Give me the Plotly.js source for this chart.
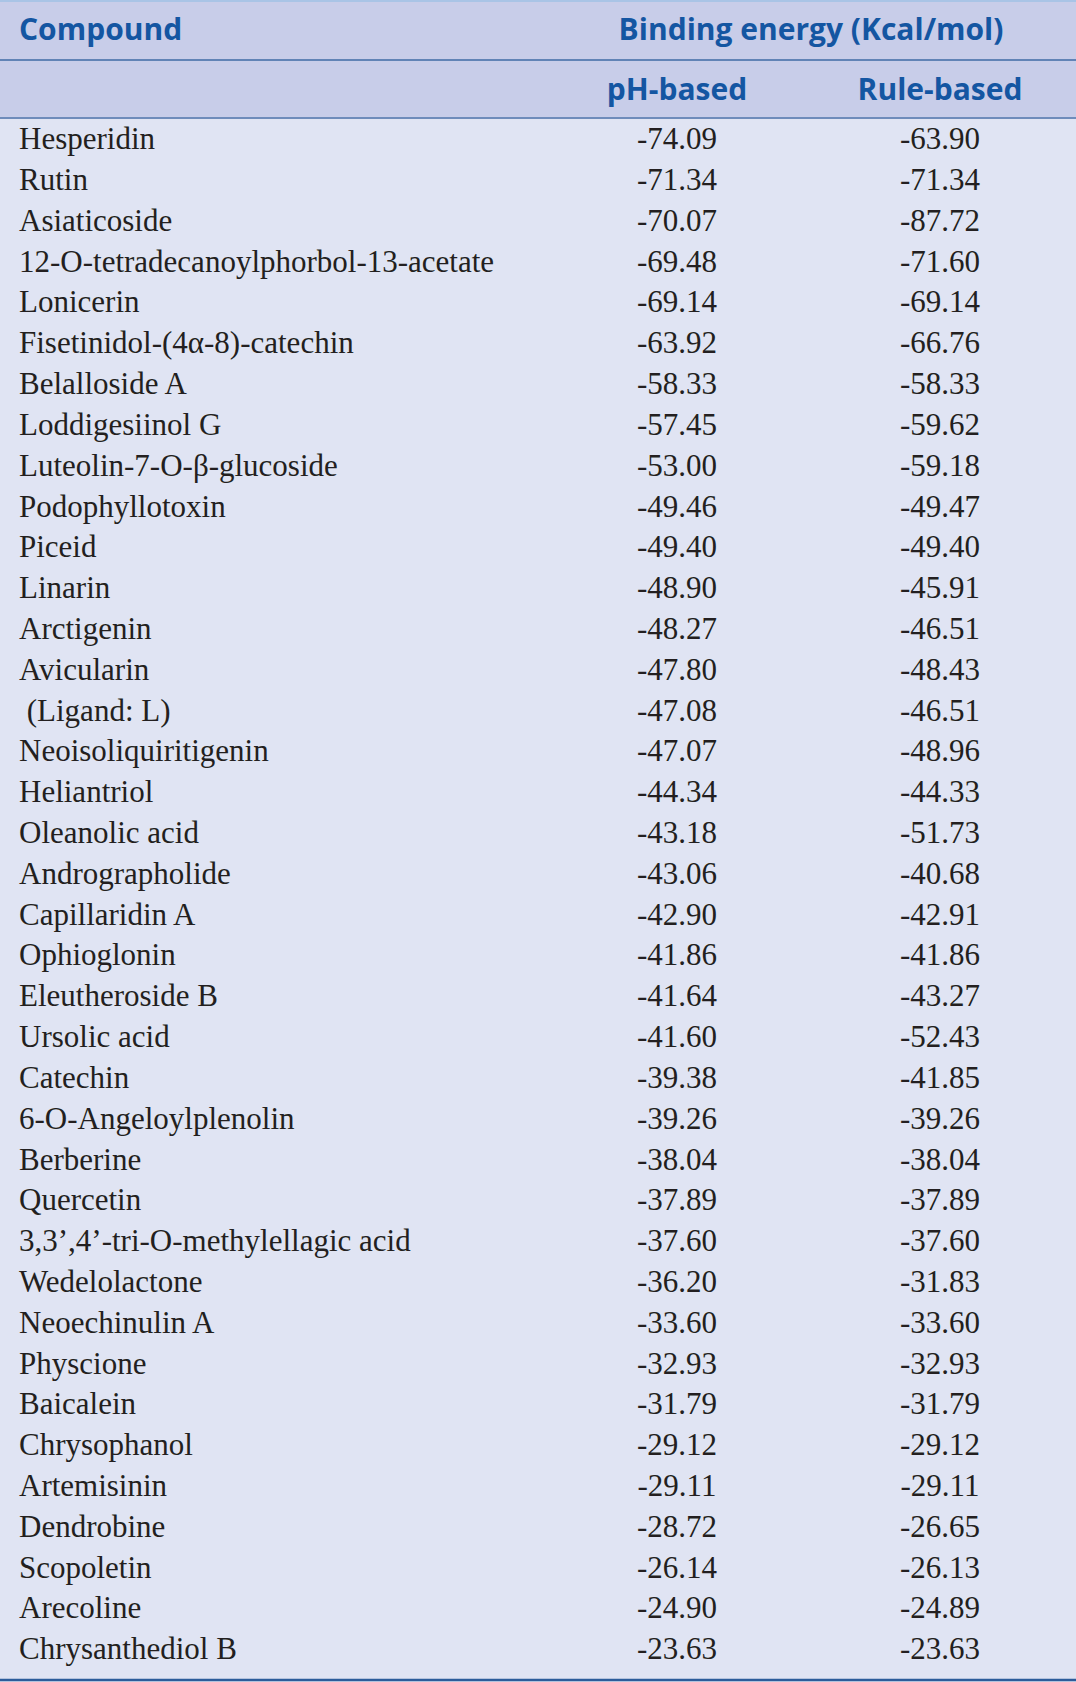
<!DOCTYPE html>
<html>
<head>
<meta charset="utf-8">
<script src="https://cdn.plot.ly/plotly-3.0.1.min.js"></script>
<style>html,body{margin:0;padding:0;background:#e0e4f3;}#chart{width:1076px;height:1682px;}</style>
</head>
<body>
<div id="chart"></div>
<script>
const compounds = [
  "Hesperidin", "Rutin", "Asiaticoside", "12-O-tetradecanoylphorbol-13-acetate",
  "Lonicerin", "Fisetinidol-(4α-8)-catechin", "Belalloside A", "Loddigesiinol G",
  "Luteolin-7-O-β-glucoside", "Podophyllotoxin", "Piceid", "Linarin", "Arctigenin",
  "Avicularin", " (Ligand: L)", "Neoisoliquiritigenin", "Heliantriol", "Oleanolic acid",
  "Andrographolide", "Capillaridin A", "Ophioglonin", "Eleutheroside B", "Ursolic acid",
  "Catechin", "6-O-Angeloylplenolin", "Berberine", "Quercetin",
  "3,3’,4’-tri-O-methylellagic acid", "Wedelolactone", "Neoechinulin A", "Physcione",
  "Baicalein", "Chrysophanol", "Artemisinin", "Dendrobine", "Scopoletin", "Arecoline",
  "Chrysanthediol B"
];
const phBased = [
  -74.09, -71.34, -70.07, -69.48, -69.14, -63.92, -58.33, -57.45, -53.00, -49.46,
  -49.40, -48.90, -48.27, -47.80, -47.08, -47.07, -44.34, -43.18, -43.06, -42.90,
  -41.86, -41.64, -41.60, -39.38, -39.26, -38.04, -37.89, -37.60, -36.20, -33.60,
  -32.93, -31.79, -29.12, -29.11, -28.72, -26.14, -24.90, -23.63
];
const ruleBased = [
  -63.90, -71.34, -87.72, -71.60, -69.14, -66.76, -58.33, -59.62, -59.18, -49.47,
  -49.40, -45.91, -46.51, -48.43, -46.51, -48.96, -44.33, -51.73, -40.68, -42.91,
  -41.86, -43.27, -52.43, -41.85, -39.26, -38.04, -37.89, -37.60, -31.83, -33.60,
  -32.93, -31.79, -29.12, -29.11, -26.65, -26.13, -24.89, -23.63
];
const topHeaders = ["Compound", "Binding energy (Kcal/mol)"];
const subHeaders = ["", "pH-based", "Rule-based"];

const W = 1076, H = 1682;
const headFill = "#c8cde9", bodyFill = "#e0e4f3", blue = "#1456a2";
const headFont = {family: "Open Sans, sans-serif", size: 30, color: blue};
const bodyFont = {family: "Liberation Serif, serif", size: 31, color: "#231f20"};
const h1 = 60, h2 = 58, bottom = 1680;
const rowH = 40.81;
const bodyEnd = h1 + h2 + rowH * compounds.length;
const fmt = v => v.toFixed(2);
const py = px => 1 - px / H;
const bold = s => "<b>" + s + "</b>";
const spacer = compounds.map(() => "");

// top header row (Compound | Binding energy)
const topTable = {
  type: "table",
  domain: {x: [0, 1], y: [py(h1), 1]},
  columnwidth: [11, 535, 530],
  header: {
    values: ["", bold(topHeaders[0]), bold(topHeaders[1])],
    align: ["left", "left", "center"],
    height: h1,
    fill: {color: headFill},
    line: {color: headFill, width: 0},
    font: headFont
  },
  cells: {values: [[], [], []], height: 1, fill: {color: headFill}, line: {width: 0}}
};

// sub header + body
const mainTable = {
  type: "table",
  domain: {x: [0, 1], y: [py(bodyEnd), py(h1)]},
  columnwidth: [11, 539, 254, 272],
  header: {
    values: ["", bold(subHeaders[0]), bold(subHeaders[1]), bold(subHeaders[2])],
    align: ["left", "left", "center", "center"],
    height: h2,
    fill: {color: headFill},
    line: {color: headFill, width: 0},
    font: headFont
  },
  cells: {
    values: [spacer, compounds, phBased.map(fmt), ruleBased.map(fmt)],
    align: ["left", "left", "center", "center"],
    height: rowH,
    fill: {color: bodyFill},
    line: {color: bodyFill, width: 0},
    font: bodyFont
  }
};

const hline = (y, w, c) => ({type: "line", xref: "paper", yref: "paper", x0: 0, x1: 1,
  y0: py(y), y1: py(y), line: {color: c, width: w}, layer: "above"});

const layout = {
  width: W, height: H,
  margin: {l: 0, r: 0, t: 0, b: 0},
  paper_bgcolor: bodyFill,
  shapes: [
    hline(1, 2, "#a9c4e6"),
    hline(h1, 1.5, "#3f6aa5"),
    hline(h1 + h2, 2, "#6f8cbb"),
    hline(bottom, 2.5, "#2c5c9a")
  ]
};

Plotly.newPlot("chart", [topTable, mainTable], layout, {staticPlot: true});
</script>
</body>
</html>
